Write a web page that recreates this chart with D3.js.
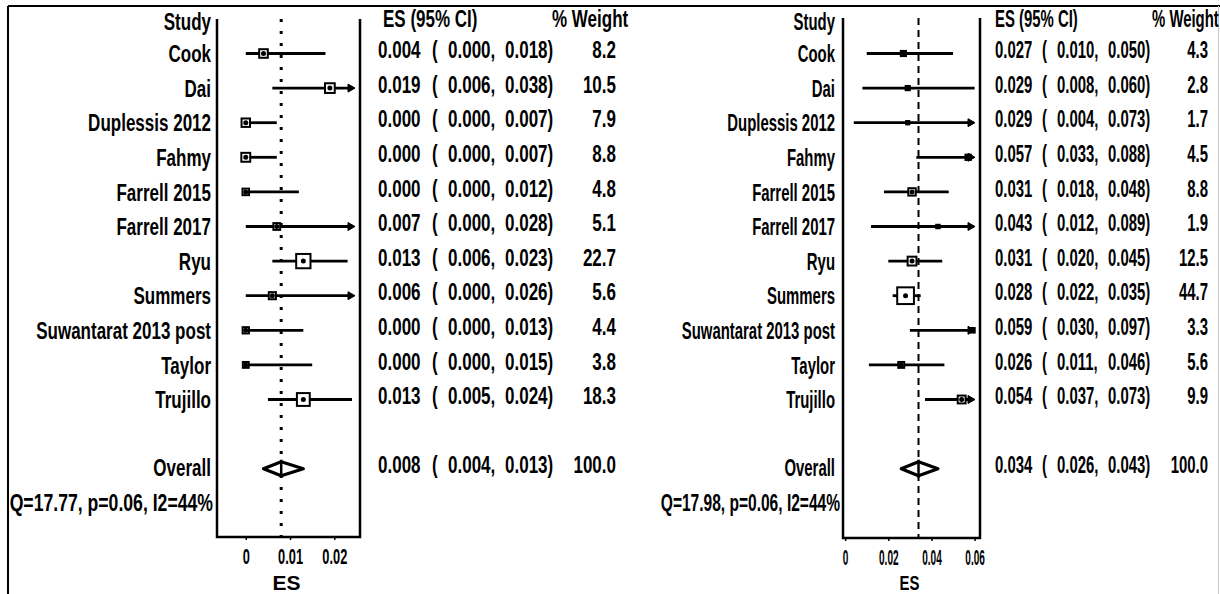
<!DOCTYPE html>
<html>
<head>
<meta charset="utf-8">
<script src="https://cdn.jsdelivr.net/npm/d3@7"></script>
<style>
  html, body { margin: 0; padding: 0; background: #fff; }
  svg { display: block; }
</style>
</head>
<body>
<div id="chart"></div>
<script>
// ---------------- DATA ----------------
const studies = ["Cook", "Dai", "Duplessis 2012", "Fahmy", "Farrell 2015", "Farrell 2017",
                 "Ryu", "Summers", "Suwantarat 2013 post", "Taylor", "Trujillo"];

// Left panel
const esA = [0.004, 0.019, 0.000, 0.000, 0.000, 0.007, 0.013, 0.006, 0.000, 0.000, 0.013];
const loA = [0.000, 0.006, 0.000, 0.000, 0.000, 0.000, 0.006, 0.000, 0.000, 0.000, 0.005];
const hiA = [0.018, 0.038, 0.007, 0.007, 0.012, 0.028, 0.023, 0.026, 0.013, 0.015, 0.024];
const wA  = [8.2, 10.5, 7.9, 8.8, 4.8, 5.1, 22.7, 5.6, 4.4, 3.8, 18.3];
const overallA = [0.008, 0.004, 0.013, 100.0];   // es, lo, hi, weight
const hetA = "Q=17.77, p=0.06, I2=44%";
const ticksA = [0, 0.01, 0.02];

// Right panel
const esB = [0.027, 0.029, 0.029, 0.057, 0.031, 0.043, 0.031, 0.028, 0.059, 0.026, 0.054];
const loB = [0.010, 0.008, 0.004, 0.033, 0.018, 0.012, 0.020, 0.022, 0.030, 0.011, 0.037];
const hiB = [0.050, 0.060, 0.073, 0.088, 0.048, 0.089, 0.045, 0.035, 0.097, 0.046, 0.073];
const wB  = [4.3, 2.8, 1.7, 4.5, 8.8, 1.9, 12.5, 44.7, 3.3, 5.6, 9.9];
const overallB = [0.034, 0.026, 0.043, 100.0];
const hetB = "Q=17.98, p=0.06, I2=44%";
const ticksB = [0, 0.02, 0.04, 0.06];

const headStudy = "Study", headES = "ES (95% CI)", headW = "% Weight";
const overallLabel = "Overall", axisTitle = "ES";

// ---------------- LAYOUT ----------------
const W = 1220, H = 594;
const FONT = "'Liberation Sans', Arial, Helvetica, sans-serif";
const FS = 21;
const SY = 1.16;

const svg = d3.select("#chart").append("svg")
  .attr("width", W).attr("height", H)
  .style("background", "#fff");

// frame
svg.append("line").attr("x1", 8).attr("x2", W).attr("y1", 6).attr("y2", 6)
  .attr("stroke", "#000").attr("stroke-width", 2);
svg.append("line").attr("x1", 8).attr("x2", 8).attr("y1", 6).attr("y2", H)
  .attr("stroke", "#000").attr("stroke-width", 2);
svg.append("line").attr("x1", 1218.5).attr("x2", 1218.5).attr("y1", 6).attr("y2", H)
  .attr("stroke", "#c8c8c8").attr("stroke-width", 1);

// row scale (row index -> vertical center)
const y = d3.scaleLinear().domain([0, 10]).range([53.5, 399.5]);
const rowHeader = -1, rowOverall = 12, rowHet = 13;

function txt(g, str, x, yy, anchor, sx, sy = SY) {
  return g.append("text")
    .attr("transform", `translate(${x},${yy}) scale(${sx},${sy})`)
    .attr("text-anchor", anchor)
    .attr("dy", "0.36em")
    .style("font-family", FONT)
    .style("font-size", FS + "px")
    .style("font-weight", "bold")
    .attr("fill", "#000")
    .text(str);
}

const f3 = d3.format(".3f"), f1 = d3.format(".1f");

function panel(cfg, es, lo, hi, w, overall, het, ticks) {
  const g = svg.append("g");
  const x = d3.scaleLinear().domain(cfg.domain).range([cfg.x0, cfg.x1]);
  const clipX = cfg.x1 - 5;

  // box (left, bottom, right)
  g.append("path")
    .attr("d", `M${cfg.x0},${cfg.top}V${cfg.bottom}H${cfg.x1}V${cfg.top}`)
    .attr("fill", "none").attr("stroke", "#000").attr("stroke-width", 2.5);

  // reference line at overall estimate
  g.append("line")
    .attr("x1", x(overall[0])).attr("x2", x(overall[0]))
    .attr("y1", cfg.top).attr("y2", cfg.bottom)
    .attr("stroke", "#000").attr("stroke-width", cfg.refW)
    .attr("stroke-dasharray", cfg.refDash);

  // study rows
  studies.forEach((s, i) => {
    const yy = y(i);
    const xl = x(lo[i]);
    const arrow = x(hi[i]) > clipX;
    const xh = arrow ? clipX - 6 : x(hi[i]);
    g.append("line").attr("x1", xl).attr("x2", xh).attr("y1", yy).attr("y2", yy)
      .attr("stroke", "#000").attr("stroke-width", 2.8);
    if (arrow) {
      g.append("path")
        .attr("d", `M${clipX - 7},${yy - 4}L${clipX},${yy}L${clipX - 7},${yy + 4}Z`)
        .attr("fill", "#000").attr("stroke", "#000").attr("stroke-width", 1);
    }
    const side = cfg.k * Math.sqrt(w[i]);
    g.append("rect")
      .attr("x", x(es[i]) - side / 2).attr("y", yy - side / 2)
      .attr("width", side).attr("height", side)
      .attr("fill", "#fff").attr("stroke", "#000").attr("stroke-width", 2);
    g.append("circle").attr("cx", x(es[i])).attr("cy", yy).attr("r", 2.5).attr("fill", "#000");

    // texts
    txt(g, s, cfg.labelX, yy, "end", cfg.sx);
    const yt = yy - 4;
    txt(g, f3(es[i]), cfg.esX, yt, "start", cfg.sx);
    txt(g, "(", cfg.parX, yt, "start", cfg.sx);
    txt(g, f3(lo[i]) + ",", cfg.loX, yt, "start", cfg.sx);
    txt(g, f3(hi[i]) + ")", cfg.hiX, yt, "start", cfg.sx);
    txt(g, f1(w[i]), cfg.wX, yt, "end", cfg.sx);
  });

  // overall diamond
  const yo = y(rowOverall);
  const dh = 7;
  g.append("path")
    .attr("d", `M${x(overall[1])},${yo}L${x(overall[0])},${yo - dh}L${x(overall[2])},${yo}L${x(overall[0])},${yo + dh}Z`)
    .attr("fill", "#fff").attr("stroke", "#000").attr("stroke-width", 3.2)
    .attr("stroke-linejoin", "round");
  g.append("line").attr("x1", x(overall[0])).attr("x2", x(overall[0]))
    .attr("y1", yo - dh - 2).attr("y2", yo + dh + 2)
    .attr("stroke", "#000").attr("stroke-width", 2.5);

  // headers
  txt(g, headStudy, cfg.labelX, y(rowHeader) + 2, "end", cfg.sx);
  txt(g, headES, cfg.esHeadX, y(rowHeader) - 1, "start", cfg.sx);
  txt(g, headW, cfg.wHeadX, y(rowHeader) - 1, "start", cfg.sx);

  // overall text
  txt(g, overallLabel, cfg.labelX, yo - 1, "end", cfg.sx);
  const yot = yo - 4;
  txt(g, f3(overall[0]), cfg.esX, yot, "start", cfg.sx);
  txt(g, "(", cfg.parX, yot, "start", cfg.sx);
  txt(g, f3(overall[1]) + ",", cfg.loX, yot, "start", cfg.sx);
  txt(g, f3(overall[2]) + ")", cfg.hiX, yot, "start", cfg.sx);
  txt(g, f1(overall[3]), cfg.wX, yot, "end", cfg.sx);

  // heterogeneity
  txt(g, het, cfg.qX, y(rowHet) - 1, "end", cfg.qSx);

  // axis
  const axis = d3.axisBottom(x).tickValues(ticks).tickSize(3).tickSizeOuter(0)
    .tickFormat(d => d === 0 ? "0" : d3.format(".2f")(d));
  const ag = g.append("g").attr("transform", `translate(0,${cfg.bottom})`).call(axis);
  ag.select(".domain").remove();
  ag.selectAll(".tick line").attr("stroke", "#000").attr("stroke-width", 1.5);
  ag.selectAll(".tick text")
    .attr("y", null).attr("dy", "0.36em")
    .attr("transform", `translate(0,19) scale(${cfg.tickSx},1.05)`)
    .attr("fill", "#000")
    .style("font-family", FONT).style("font-size", FS + "px").style("font-weight", "bold");

  txt(g, axisTitle, (cfg.x0 + cfg.x1) / 2 - 2, 582, "middle", cfg.titleSx, 1.0);
}

panel({
  domain: [-0.0065, 0.0258], x0: 217, x1: 360, top: 19, bottom: 537,
  labelX: 211, qX: 213, esX: 378, parX: 432, loX: 448, hiX: 505, wX: 616,
  esHeadX: 383, wHeadX: 552, sx: 0.81, qSx: 0.84, tickSx: 0.61, titleSx: 1.0,
  k: 3, refW: 3, refDash: "3,9"
}, esA, loA, hiA, wA, overallA, hetA, ticksA);

panel({
  domain: [-0.001, 0.0625], x0: 843, x1: 980, top: 18, bottom: 538,
  labelX: 835, qX: 840, esX: 995, parX: 1042, loX: 1057, hiX: 1108, wX: 1208,
  esHeadX: 995, wHeadX: 1152, sx: 0.71, qSx: 0.74, tickSx: 0.48, titleSx: 0.71,
  k: 2.5, refW: 2, refDash: "7,5"
}, esB, loB, hiB, wB, overallB, hetB, ticksB);
</script>
</body>
</html>
